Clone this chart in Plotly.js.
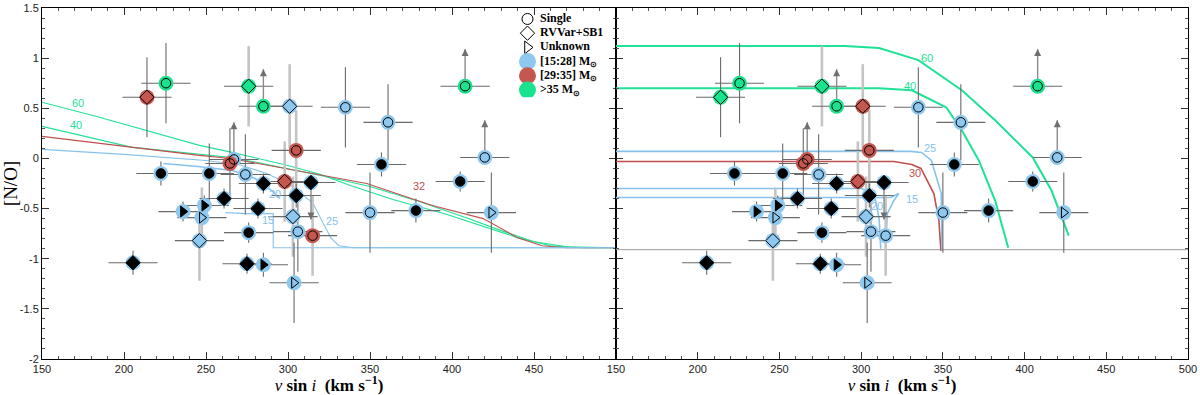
<!DOCTYPE html>
<html>
<head>
<meta charset="utf-8">
<script src="https://cdn.plot.ly/plotly-3.0.1.min.js"></script>
<style>
  html, body { margin: 0; padding: 0; background: #fff; }
  #chart { width: 1200px; height: 395px; }
</style>
</head>
<body>
<div id="chart"></div>
<script>
// ── Star sample (same stars in both panels) ─────────────────────
const vsini = [214, 225.6, 276, 285, 301, 335, 361, 408, 305, 267,
               264.6, 274, 222.5, 252, 285, 298, 314, 305, 261, 249,
               236, 281.7, 247.5, 303, 306, 315, 246, 276, 275, 285,
               303.7, 205.5, 357, 405, 420, 350, 378, 424];
const nO    = [0.61, 0.75, 0.72, 0.52, 0.52, 0.51, 0.36, 0.72, 0.08, -0.01,
               -0.05, -0.16, -0.15, -0.15, -0.25, -0.23, -0.24, -0.37, -0.40, -0.47,
               -0.53, -0.50, -0.59, -0.58, -0.73, -0.77, -0.82, -0.74, -1.05, -1.06,
               -1.24, -1.04, -0.06, -0.23, 0.01, -0.54, -0.52, -0.54];
// c = single, d = RVVar+SB1, t = unknown
const binary = ['d','c','d','c','d','c','c','c','c','c',
                'c','c','c','c','d','d','d','d','d','t',
                't','d','t','d','c','c','d','c','d','t',
                't','d','c','c','c','c','c','t'];
const filled = [0,0,0,0,0,0,0,0,0,0, 0,0,1,1,1,0,1,1,1,1,
                1,1,0,0,0,0,0,1,1,1, 0,1,1,1,0,0,1,0];
// mass class: b = [15:28], r = [29:35], g = >35
const massLeft  = ['r','g','g','g','b','b','b','g','r','b',
                   'r','b','b','b','b','r','b','b','b','b',
                   'b','b','b','b','b','r','b','b','b','b',
                   'b','b','b','b','b','b','b','b'];
const massRight = ['g','g','g','g','r','b','b','g','r','r',
                   'r','b','b','b','b','r','b','b','b','b',
                   'b','b','b','b','b','b','b','b','b','b',
                   'b','b','b','b','b','b','b','b'];
const errV  = [15,15,15,15,14,15,15,15,15,15, 15,15,15,15,15,15,15,15,15,15,
               15,15,15,15,15,15,15,15,15,15, 15,15,15,15,15,15,15,15];
const errNO = [0.40,0.40,0.40,0,0.42,0.40,0.38,0,0.40,0,
               0.35,0.40,0.12,0.30,0.10,0.40,0,0.12,0.10,0.10,
               0.10,0.10,0.30,0.40,0.40,0.40,0.40,0.10,0.10,0.12,
               0.40,0.12,0.12,0.10,0,0.40,0.12,0.40];
const errLight = [0,0,1,0,1,0,0,0,1,0, 0,0,0,0,0,1,0,0,0,0,
                  0,0,1,1,0,1,1,0,0,0, 0,0,0,0,0,0,0,0];
// 1 = lower limit (arrow up), -1 = upper limit (arrow down)
const limitDir = [0,0,0,1,0,0,0,1,0,1, 0,0,0,0,0,0,-1,0,0,0,
                  0,0,0,0,0,0,0,0,0,0, 0,0,0,0,1,0,0,0];
const limitLen = 0.4;

// ── Model tracks, left panel ────────────────────────────────────
const l60V = [150,185,246,266,300,320,338,364,397,421,440,460,480,500];
const l60Y = [0.56,0.41,0.13,0.06,-0.07,-0.16,-0.27,-0.41,-0.56,-0.69,-0.79,-0.87,-0.89,-0.89];
const l40V = [150,205,266,300,320,350,380,410,430,450,470,500];
const l40Y = [0.32,0.11,0.01,-0.10,-0.17,-0.28,-0.43,-0.60,-0.72,-0.83,-0.88,-0.89];
const l32V = [150,246,265,307,348,388,419,440,455,470,500];
const l32Y = [0.22,0.03,0.00,-0.13,-0.25,-0.47,-0.60,-0.79,-0.87,-0.89,-0.89];
const l25V = [150,200,250,270,287,300,315,326,331,340,500];
const l25Y = [0.09,0.04,-0.02,-0.06,-0.15,-0.25,-0.44,-0.79,-0.87,-0.89,-0.89];
const l20V = [224,245,266,280,290,295];
const l20Y = [-0.05,-0.08,-0.12,-0.20,-0.32,-0.40];
const l15V = [262,275,291,291,500];
const l15Y = [-0.54,-0.55,-0.55,-0.89,-0.89];

// ── Model tracks, right panel ───────────────────────────────────
const r60V = [150,290,311,335,361.6,382,405,416.5,427];
const r60Y = [1.12,1.12,1.10,0.98,0.68,0.38,0.01,-0.32,-0.77];
const r40V = [150,300,311,331,352,361.6,372,382,390];
const r40Y = [0.70,0.70,0.70,0.68,0.51,0.28,-0.02,-0.42,-0.89];
const r30V = [150,320,331,336.6,344.5,347.6,348.8];
const r30Y = [-0.03,-0.03,-0.06,-0.10,-0.35,-0.62,-0.92];
const r25V = [150,330,337,343,349,349.5];
const r25Y = [0.07,0.07,0.06,-0.02,-0.35,-0.92];
const r20V = [150,300,308,311,312];
const r20Y = [-0.30,-0.30,-0.35,-0.60,-0.90];
const r15V = [150,318,323,320,316,315];
const r15Y = [-0.39,-0.39,-0.35,-0.42,-0.55,-0.90];
const baseV = [150, 500];
const baseY = [-0.91, -0.91];

// track labels: text, v, y, colour key
const leftLabels  = [['60',172,0.55,'g'],['40',171,0.33,'g'],['32',380,-0.27,'r'],
                     ['20',292,-0.35,'b'],['15',288,-0.61,'b'],['25',327,-0.62,'b']];
const rightLabels = [['60',340,1.0,'g'],['40',330,0.72,'g'],['25',342,0.10,'b'],
                     ['30',333,-0.15,'r'],['15',331,-0.40,'b'],['20',310,-0.47,'b']];

// ── Axis ticks / legend texts ───────────────────────────────────
const xTicksLeft  = [150,200,250,300,350,400,450];
const xTicksRight = [150,200,250,300,350,400,450,500];
const yTicks = [-2,-1.5,-1,-0.5,0,0.5,1,1.5];
const legendText = ['Single','RVVar+SB1','Unknown',
                    '[15:28] M<sub>⊙</sub>','[29:35] M<sub>⊙</sub>','>35 M<sub>⊙</sub>'];
const legendKeys = ['c','d','t','b','r','g'];

/* ── Styles ───────────────────────────────────────────────── */
const HALO  = { b: '#8fc8ef', r: '#c4574f', g: '#19e38e' };
const LINE  = { b: '#86c2ec', r: '#c0504d', g: '#1ee295' };
const SYM   = { c: 'circle', d: 'diamond', t: 'triangle-right' };
const SANS  = 'Liberation Sans, Arial, sans-serif';
const SERIF = 'Liberation Serif, Times New Roman, serif';

function symbolOf(i) {
  return SYM[binary[i]] + (filled[i] ? '' : '-open');
}

function track(v, y, key, xa, ya, width) {
  return { x: v, y: y, xaxis: xa, yaxis: ya, type: 'scatter', mode: 'lines',
           line: { color: LINE[key], width: width }, hoverinfo: 'skip', showlegend: false };
}

// limit arrows: a grey stem from the star plus an arrow head at the tip
function limitTraces(xa, ya) {
  const sx = [], sy = [], hx = [], hy = [], hs = [];
  limitDir.forEach((d, i) => {
    if (!d) return;
    const tip = nO[i] + limitLen * d;
    sx.push(vsini[i], vsini[i], null);
    sy.push(nO[i], tip - 0.03 * d, null);
    hx.push(vsini[i]);
    hy.push(tip - 0.03 * d);
    hs.push(d > 0 ? 'arrow-up' : 'arrow-down');
  });
  return [
    { x: sx, y: sy, xaxis: xa, yaxis: ya, type: 'scatter', mode: 'lines',
      line: { color: '#8a8a8a', width: 1.4 }, hoverinfo: 'skip', showlegend: false },
    { x: hx, y: hy, xaxis: xa, yaxis: ya, type: 'scatter', mode: 'markers',
      marker: { symbol: hs, size: 7, color: '#6f6f6f', opacity: 1, line: { width: 0 } },
      hoverinfo: 'skip', showlegend: false },
  ];
}

function starTraces(mass, xa, ya) {
  const darkY  = errNO.map((e, i) => errLight[i] ? 0 : e);
  const lightY = errNO.map((e, i) => errLight[i] ? e : 0);
  const base = { x: vsini, y: nO, xaxis: xa, yaxis: ya, type: 'scatter',
                 mode: 'markers', showlegend: false, hoverinfo: 'skip' };
  return [
    { ...base, marker: { size: 1, opacity: 0 },
      error_y: { type: 'data', array: lightY, color: '#c4c4c4', thickness: 2.6, width: 0 } },
    { ...base, marker: { size: 1, opacity: 0 },
      error_x: { type: 'data', array: errV, color: '#6a6a6a', thickness: 1.1, width: 0 },
      error_y: { type: 'data', array: darkY, color: '#6a6a6a', thickness: 1.1, width: 0 } },
    ...limitTraces(xa, ya),
    { ...base, marker: { size: 15, opacity: 1, color: mass.map(m => HALO[m]), line: { width: 0 } } },
    { ...base, marker: { size: vsini.map((_, i) => binary[i] === 'd' ? 11 : 9.5),
                         opacity: 1,
                         symbol: vsini.map((_, i) => symbolOf(i)),
                         color: '#000', line: { color: '#000', width: 1 } } },
  ];
}

function trackLabels(list, xref, yref) {
  return list.map(([t, v, y, k]) => ({
    x: v, y: y, xref: xref, yref: yref, text: t, showarrow: false,
    font: { family: SANS, size: 11, color: LINE[k] },
  }));
}

const traces = [
  track(l60V, l60Y, 'g', 'x', 'y', 1.1),
  track(l40V, l40Y, 'g', 'x', 'y', 1.1),
  track(l32V, l32Y, 'r', 'x', 'y', 1.1),
  track(l25V, l25Y, 'b', 'x', 'y', 1.1),
  track(l20V, l20Y, 'b', 'x', 'y', 1.6),
  track(l15V, l15Y, 'b', 'x', 'y', 1.1),
  { x: baseV, y: baseY, xaxis: 'x2', yaxis: 'y2', mode: 'lines', type: 'scatter',
    line: { color: '#9a9a9a', width: 1 }, hoverinfo: 'skip', showlegend: false },
  track(r60V, r60Y, 'g', 'x2', 'y2', 2),
  track(r40V, r40Y, 'g', 'x2', 'y2', 2),
  track(r30V, r30Y, 'r', 'x2', 'y2', 1.6),
  track(r25V, r25Y, 'b', 'x2', 'y2', 1.6),
  track(r20V, r20Y, 'b', 'x2', 'y2', 1.6),
  track(r15V, r15Y, 'b', 'x2', 'y2', 1.6),
  ...starTraces(massLeft, 'x', 'y'),
  ...starTraces(massRight, 'x2', 'y2'),
  // hand-made legend in its own small axes
  { x: legendKeys.map(() => 0.1), y: legendKeys.map((_, i) => i), xaxis: 'x3', yaxis: 'y3',
    type: 'scatter', mode: 'markers', hoverinfo: 'skip', showlegend: false,
    marker: { size: legendKeys.map(k => SYM[k] ? 11 : 17), opacity: 1,
              symbol: legendKeys.map(k => SYM[k] ? SYM[k] + '-open' : 'circle'),
              color: legendKeys.map(k => SYM[k] ? '#000' : HALO[k]),
              line: { color: '#000', width: legendKeys.map(k => SYM[k] ? 1 : 0) } } },
  { x: legendKeys.map(() => 0.2), y: legendKeys.map((_, i) => i), xaxis: 'x3', yaxis: 'y3',
    type: 'scatter', mode: 'text', text: legendText, textposition: 'middle right',
    textfont: { family: SERIF, size: 12, color: '#000', weight: 'bold' },
    hoverinfo: 'skip', showlegend: false },
];

const SPLIT = 574 / 1146;
const axisCommon = {
  showline: true, linecolor: '#000', linewidth: 1, mirror: 'ticks',
  ticks: 'inside', ticklen: 7, tickcolor: '#333', tickwidth: 1,
  showgrid: false, zeroline: false,
  tickfont: { family: SANS, size: 11, color: '#222' },
};
const xTitle = {
  text: '<i>v</i> <b>sin</b> <i>i</i>  <b>(km s<sup>−1</sup>)</b>',
  font: { family: SERIF, size: 17, color: '#000' }, standoff: 3,
};

const layout = {
  width: 1200, height: 395,
  margin: { l: 42, r: 12, t: 8, b: 36 },
  paper_bgcolor: '#fff', plot_bgcolor: 'rgba(0,0,0,0)',
  showlegend: false,
  xaxis: { ...axisCommon, domain: [0, SPLIT], range: [150, 500], anchor: 'y',
           tickvals: xTicksLeft, ticktext: xTicksLeft.map(String),
           minor: { dtick: 10, ticks: 'inside', ticklen: 3, tickcolor: '#555' }, title: xTitle },
  yaxis: { ...axisCommon, domain: [0, 1], range: [-2, 1.5], anchor: 'x',
           tickvals: yTicks, ticktext: yTicks.map(v => String(v)),
           minor: { dtick: 0.1, ticks: 'inside', ticklen: 3, tickcolor: '#555' },
           title: { text: '[N/O]', font: { family: SERIF, size: 19, color: '#000' }, standoff: 4 } },
  xaxis2: { ...axisCommon, domain: [SPLIT, 1], range: [150, 500], anchor: 'y2',
            tickvals: xTicksRight, ticktext: xTicksRight.map(String),
            minor: { dtick: 10, ticks: 'inside', ticklen: 3, tickcolor: '#555' }, title: xTitle },
  yaxis2: { ...axisCommon, domain: [0, 1], range: [-2, 1.5], anchor: 'x2',
            tickvals: yTicks, showticklabels: false,
            minor: { dtick: 0.1, ticks: 'inside', ticklen: 3, tickcolor: '#555' } },
  xaxis3: { domain: [0.4127, 0.522], range: [0, 1], anchor: 'y3', visible: false, fixedrange: true },
  yaxis3: { domain: [0.746, 0.989], range: [5.5, -0.5], anchor: 'x3', visible: false, fixedrange: true },
  annotations: [
    ...trackLabels(leftLabels, 'x', 'y'),
    ...trackLabels(rightLabels, 'x2', 'y2'),
  ],
};

Plotly.newPlot('chart', traces, layout, { displayModeBar: false, staticPlot: true });
</script>
</body>
</html>
